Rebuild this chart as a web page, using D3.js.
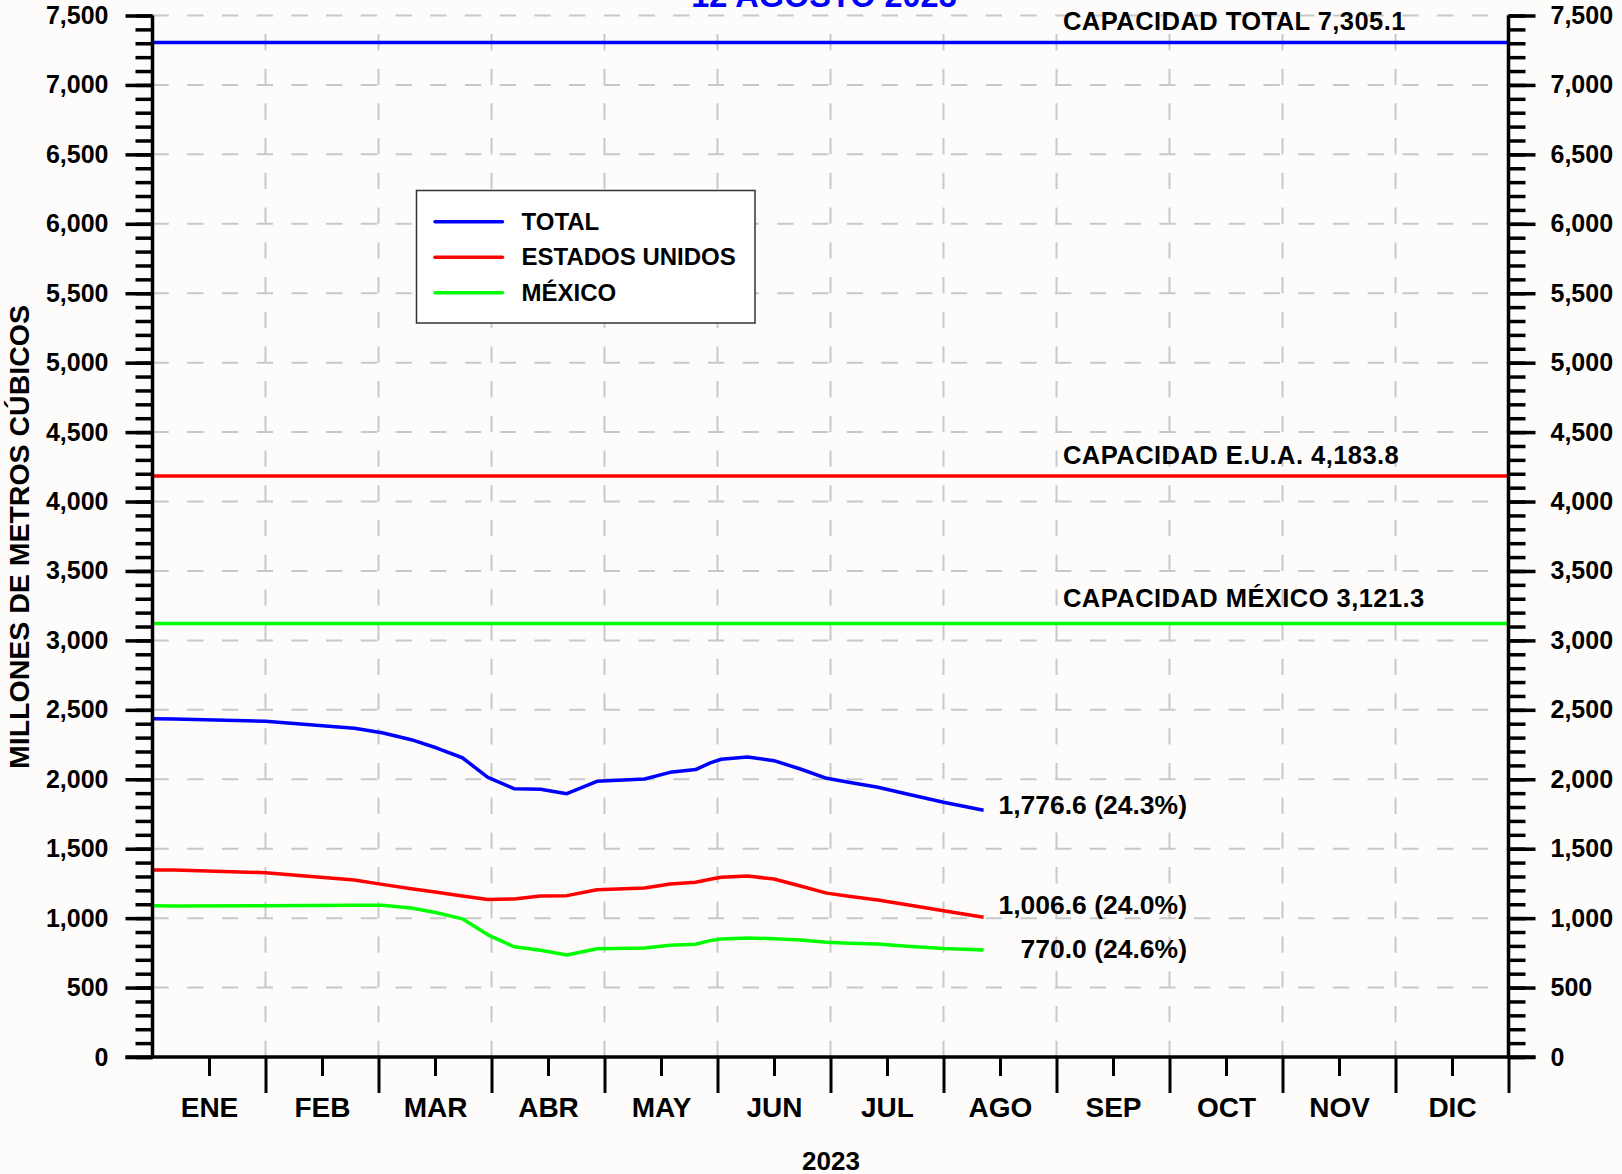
<!DOCTYPE html>
<html>
<head>
<meta charset="utf-8">
<script src="https://cdn.jsdelivr.net/npm/d3@7"></script>
<style>
  body { margin: 0; background: #fdfcfa; }
  svg { display: block; }
  text { font-family: "Liberation Sans", Arial, sans-serif; font-weight: bold; }
</style>
</head>
<body>
<div id="chart"></div>
<script>

// --- datos ---
var meses = ["ENE", "FEB", "MAR", "ABR", "MAY", "JUN", "JUL", "AGO", "SEP", "OCT", "NOV", "DIC"];
var series = ["TOTAL", "ESTADOS UNIDOS", "MÉXICO"];

var fechas = ["2023-01-01", "2023-01-07", "2023-02-01", "2023-02-23", "2023-03-02", "2023-03-10",
              "2023-03-17", "2023-03-24", "2023-03-31", "2023-04-07", "2023-04-14", "2023-04-21",
              "2023-04-29", "2023-05-12", "2023-05-19", "2023-05-26", "2023-05-30", "2023-06-02",
              "2023-06-09", "2023-06-16", "2023-06-23", "2023-06-30", "2023-07-06", "2023-07-14",
              "2023-07-22", "2023-08-01", "2023-08-12"];

var total = [2436, 2434, 2417, 2368, 2335, 2285, 2225, 2155, 2014, 1932, 1928, 1896,
             1985, 2002, 2050, 2070, 2118, 2144, 2160, 2134, 2074, 2007, 1978, 1943,
             1894, 1834, 1776.6];
var eua   = [1347, 1347, 1327, 1275, 1243, 1212, 1186, 1160, 1134, 1138, 1159, 1162,
             1205, 1217, 1246, 1258, 1280, 1294, 1303, 1282, 1231, 1180, 1158, 1130,
             1096, 1053, 1006.6];
var mexico = [1089, 1087, 1090, 1093, 1092, 1073, 1039, 995, 880, 794, 769, 734,
              780, 785, 804, 812, 838, 850, 857, 852, 843, 827, 820, 813,
              798, 781, 770.0];

var capacidades = [7305.1, 4183.8, 3121.3];
var capacidadTextos = ["CAPACIDAD TOTAL 7,305.1", "CAPACIDAD E.U.A. 4,183.8", "CAPACIDAD MÉXICO 3,121.3"];
var finalTextos = ["1,776.6 (24.3%)", "1,006.6 (24.0%)", "770.0 (24.6%)"];

var colores = ["#0000ff", "#ff0000", "#00ff00"];

// --- escalas ---
var width = 1622, height = 1174;
var mLeft = 152.5, mRight = 1508.5, mTop = 15.5, mBottom = 1057;

var x = d3.scaleLinear().domain([0, 12]).range([mLeft, mRight]);
var y = d3.scaleLinear().domain([0, 7500]).range([mBottom, mTop]);

// fecha -> mes fraccional
function mesFrac(s) {
  var p = s.split("-").map(Number);
  var dias = new Date(p[0], p[1], 0).getDate();
  return (p[1] - 1) + (p[2] - 1) / dias;
}

var svg = d3.select("#chart").append("svg")
    .attr("width", width)
    .attr("height", height);

// grid: dash pattern matches half of a 500 step
var paso = (y(0) - y(500)) / 2;
var dash = "16.3," + (paso - 16.3);

svg.append("g").selectAll("line")
    .data(d3.range(500, 7501, 500))
    .enter().append("line")
    .attr("x1", x(0)).attr("x2", x(12))
    .attr("y1", function(d) { return y(d); })
    .attr("y2", function(d) { return y(d); })
    .attr("stroke", "#c8c8c8")
    .attr("stroke-width", 2)
    .attr("stroke-dasharray", dash);

svg.append("g").selectAll("line")
    .data(d3.range(1, 12))
    .enter().append("line")
    .attr("x1", function(d) { return x(d); })
    .attr("x2", function(d) { return x(d); })
    .attr("y1", y(0)).attr("y2", y(7500))
    .attr("stroke", "#c8c8c8")
    .attr("stroke-width", 2)
    .attr("stroke-dasharray", dash);

// title (cut off at top in the original)
svg.append("text")
    .attr("x", 824)
    .attr("y", 7)
    .attr("text-anchor", "middle")
    .attr("fill", "#0000ff")
    .style("font-size", "32.5px")
    .text("12 AGOSTO 2023");

// capacity lines
svg.append("g").selectAll("line")
    .data(capacidades)
    .enter().append("line")
    .attr("x1", x(0)).attr("x2", x(12))
    .attr("y1", function(d) { return y(d); })
    .attr("y2", function(d) { return y(d); })
    .attr("stroke", function(d, i) { return colores[i]; })
    .attr("stroke-width", 3.5);

var capOffset = [13, 12, 16.5];
svg.append("g").selectAll("text")
    .data(capacidades)
    .enter().append("text")
    .attr("x", 1063)
    .attr("y", function(d, i) { return y(d) - capOffset[i]; })
    .style("font-size", "25.5px")
    .style("letter-spacing", "0.45px")
    .text(function(d, i) { return capacidadTextos[i]; });

// data lines
var valores = [total, eua, mexico];
var line = d3.line()
    .x(function(d) { return x(mesFrac(d[0])); })
    .y(function(d) { return y(d[1]); });

svg.append("g").selectAll("path")
    .data(valores)
    .enter().append("path")
    .attr("d", function(v) { return line(fechas.map(function(f, i) { return [f, v[i]]; })); })
    .attr("fill", "none")
    .attr("stroke", function(d, i) { return colores[i]; })
    .attr("stroke-width", 3.5)
    .attr("stroke-linejoin", "round");

// last values
var finY = [814, 914, 958];
svg.append("g").selectAll("text")
    .data(valores)
    .enter().append("text")
    .attr("x", 1187)
    .attr("y", function(v, i) { return finY[i]; })
    .attr("text-anchor", "end")
    .style("font-size", "26.5px")
    .text(function(v, i) { return finalTextos[i]; });

// y axes (minor + major) left and right
function ejeY(g, gen) {
  g.call(gen);
  g.select(".domain").remove();
  g.selectAll(".tick line").attr("stroke", "#000").attr("stroke-width", 3.5);
  g.selectAll(".tick text")
    .attr("fill", "#000")
    .style("font-family", "Liberation Sans, Arial, sans-serif")
    .style("font-weight", "bold")
    .style("font-size", "25px");
}

svg.append("g").attr("transform", "translate(" + x(0) + ",0)")
    .call(ejeY, d3.axisLeft(y).tickValues(d3.range(0, 7501, 100)).tickSize(17).tickFormat(""));
svg.append("g").attr("transform", "translate(" + x(0) + ",0)")
    .call(ejeY, d3.axisLeft(y).tickValues(d3.range(0, 7501, 500)).tickSize(27).tickPadding(17)
      .tickFormat(d3.format(",")));
svg.append("g").attr("transform", "translate(" + x(12) + ",0)")
    .call(ejeY, d3.axisRight(y).tickValues(d3.range(0, 7501, 100)).tickSize(17).tickFormat(""));
svg.append("g").attr("transform", "translate(" + x(12) + ",0)")
    .call(ejeY, d3.axisRight(y).tickValues(d3.range(0, 7501, 500)).tickSize(27).tickPadding(15)
      .tickFormat(d3.format(",")));

// vertical axis lines
svg.append("line").attr("x1", x(0)).attr("x2", x(0)).attr("y1", y(7500)).attr("y2", y(0))
    .attr("stroke", "#000").attr("stroke-width", 3.5);
svg.append("line").attr("x1", x(12)).attr("x2", x(12)).attr("y1", y(7500)).attr("y2", y(0))
    .attr("stroke", "#000").attr("stroke-width", 3.5);

// x axis
svg.append("line").attr("x1", x(0) - 27).attr("x2", x(12) + 27).attr("y1", y(0)).attr("y2", y(0))
    .attr("stroke", "#000").attr("stroke-width", 3.5);

var gx = svg.append("g").attr("transform", "translate(0," + y(0) + ")");
gx.call(d3.axisBottom(x).tickValues(d3.range(1, 13)).tickSize(36).tickFormat(""));
gx.select(".domain").remove();
gx.selectAll(".tick line").attr("stroke", "#000").attr("stroke-width", 3);

var gx2 = svg.append("g").attr("transform", "translate(0," + y(0) + ")");
gx2.call(d3.axisBottom(x).tickValues(d3.range(0.5, 12, 1)).tickSize(19).tickPadding(21)
    .tickFormat(function(d) { return meses[Math.floor(d)]; }));
gx2.select(".domain").remove();
gx2.selectAll(".tick line").attr("stroke", "#000").attr("stroke-width", 3);
gx2.selectAll(".tick text")
    .attr("fill", "#000")
    .style("font-family", "Liberation Sans, Arial, sans-serif")
    .style("font-weight", "bold")
    .style("font-size", "28px");

svg.append("text")
    .attr("x", 831)
    .attr("y", 1170)
    .attr("text-anchor", "middle")
    .style("font-size", "26px")
    .text("2023");

svg.append("text")
    .attr("transform", "translate(29,537) rotate(-90)")
    .attr("text-anchor", "middle")
    .style("font-size", "28.5px")
    .text("MILLONES DE METROS CÚBICOS");

// legend
var legend = svg.append("g");
legend.append("rect")
    .attr("x", 416.5).attr("y", 190.5)
    .attr("width", 338.5).attr("height", 132.5)
    .attr("fill", "#ffffff")
    .attr("stroke", "#333")
    .attr("stroke-width", 1.5);

var item = legend.selectAll(".item")
    .data(series)
    .enter().append("g")
    .attr("transform", function(d, i) { return "translate(0," + (221.7 + i * 35.5) + ")"; });

item.append("line")
    .attr("x1", 435).attr("x2", 502.5)
    .attr("stroke", function(d, i) { return colores[i]; })
    .attr("stroke-width", 3.5)
    .attr("stroke-linecap", "round");

item.append("text")
    .attr("x", 521.5)
    .attr("y", 7.8)
    .style("font-size", "24px")
    .text(function(d) { return d; });

</script>
</body>
</html>
